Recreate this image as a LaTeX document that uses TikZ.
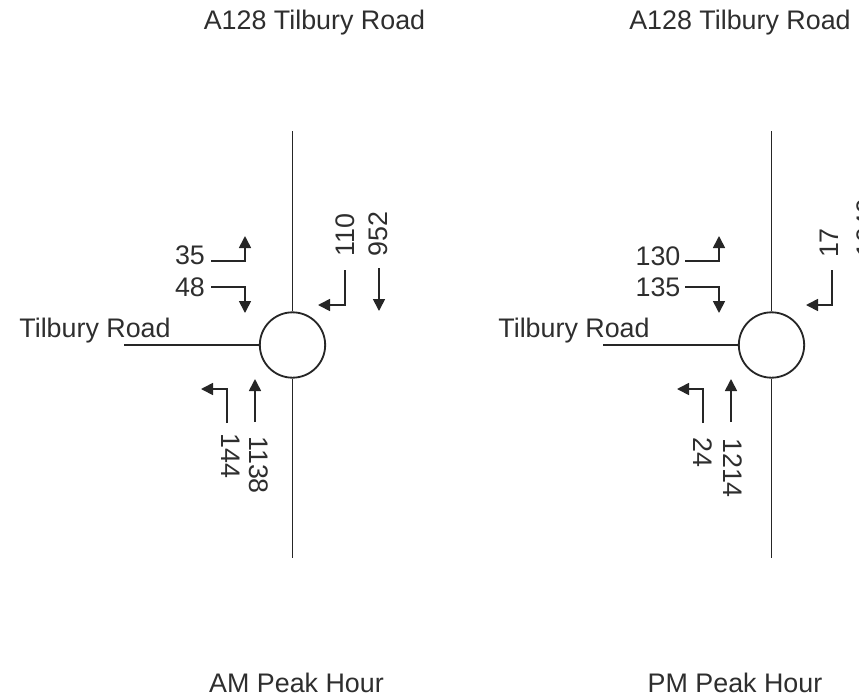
\documentclass[tikz,border=0pt]{standalone}
\usepackage{fontspec}
\setmainfont{Liberation Sans}
\usepackage{xcolor}
\definecolor{cLine}{HTML}{262626}
\definecolor{cText}{HTML}{2E2E2E}
\usetikzlibrary{positioning,arrows.meta}
\tikzset{
  road/.style={draw=cLine,line width=1.4pt},
  node-junction/.style={draw=cLine,line width=1.3pt,circle,minimum size=46.5pt,inner sep=0pt},
  node-label/.style={font=\fontsize{19.1pt}{22pt}\selectfont,text=cText,inner sep=0pt},
  node-count/.style={node-label,rotate=-90},
  node-countup/.style={node-label,rotate=90},
  arrow/.style={-{Triangle[length=3mm,width=3mm]},line width=1.2pt,draw=cLine},
}
\begin{document}
\begin{tikzpicture}[x=0.25mm,y=-0.25mm]
  \useasboundingbox (0,0) rectangle (859,697);
  % AM
  \node[node-label] (titleA) at (314.5,23) {A128 Tilbury Road};
  \node[node-label] (peakA) at (296.5,683) {AM Peak Hour};
  \node[node-label] (sideA) at (95,331) {Tilbury Road};
  \node[node-junction] (circA) at (292.5,345) {};
  \coordinate (topA) at (292.5,131);
  \coordinate (botA) at (292.5,558);
  \coordinate (westA) at (124,345);
  \draw[road] (topA) -- (circA);
  \draw[road] (circA) -- (botA);
  \draw[road] (westA) -- (circA);

  \node[node-label] (lblA35) at (190,255) {35};
  \node[node-label] (lblA48) at (190,287) {48};
  \node[node-countup] (lblA110) at (345,235) {110};
  \node[node-countup] (lblA952) at (378,234) {952};
  \node[node-count] (lblA144) at (231,456) {144};
  \node[node-count] (lblA1138) at (259,465) {1138};

  \coordinate (aS1) at (211,261);
  \coordinate (aE1) at (245,236);
  \draw[arrow] (aS1) -| (aE1);
  \coordinate (aS2) at (211,287);
  \coordinate (aE2) at (245,313);
  \draw[arrow] (aS2) -| (aE2);
  \coordinate (aS3) at (345,270);
  \coordinate (aE3) at (318,305);
  \draw[arrow] (aS3) |- (aE3);
  \coordinate (aS4) at (379,268);
  \coordinate (aE4) at (379,311);
  \draw[arrow] (aS4) -- (aE4);
  \coordinate (aS5) at (227,423);
  \coordinate (aE5) at (201,389);
  \draw[arrow] (aS5) |- (aE5);
  \coordinate (aS6) at (255,422);
  \coordinate (aE6) at (255,379);
  \draw[arrow] (aS6) -- (aE6);

  % PM
  \node[node-label] (titleP) at (740,23) {A128 Tilbury Road};
  \node[node-label] (peakP) at (735,683) {PM Peak Hour};
  \node[node-label] (sideP) at (574,331) {Tilbury Road};
  \node[node-junction] (circP) at (771.5,345) {};
  \coordinate (topP) at (771.5,131);
  \coordinate (botP) at (771.5,558);
  \coordinate (westP) at (603,345);
  \draw[road] (topP) -- (circP);
  \draw[road] (circP) -- (botP);
  \draw[road] (westP) -- (circP);

  \node[node-label] (lblP130) at (658,256) {130};
  \node[node-label] (lblP135) at (658,287) {135};
  \node[node-countup] (lblP17) at (829,243) {17};
  \node[node-countup] (lblP1049) at (866,228) {1049};
  \node[node-count] (lblP24) at (703,452) {24};
  \node[node-count] (lblP1214) at (733,468) {1214};

  \coordinate (pS1) at (685,261);
  \coordinate (pE1) at (719,236);
  \draw[arrow] (pS1) -| (pE1);
  \coordinate (pS2) at (685,287);
  \coordinate (pE2) at (719,313);
  \draw[arrow] (pS2) -| (pE2);
  \coordinate (pS3) at (832,270);
  \coordinate (pE3) at (806,305);
  \draw[arrow] (pS3) |- (pE3);
  \coordinate (pS5) at (703,423);
  \coordinate (pE5) at (677,389);
  \draw[arrow] (pS5) |- (pE5);
  \coordinate (pS6) at (731,422);
  \coordinate (pE6) at (731,379);
  \draw[arrow] (pS6) -- (pE6);
\end{tikzpicture}
\end{document}
